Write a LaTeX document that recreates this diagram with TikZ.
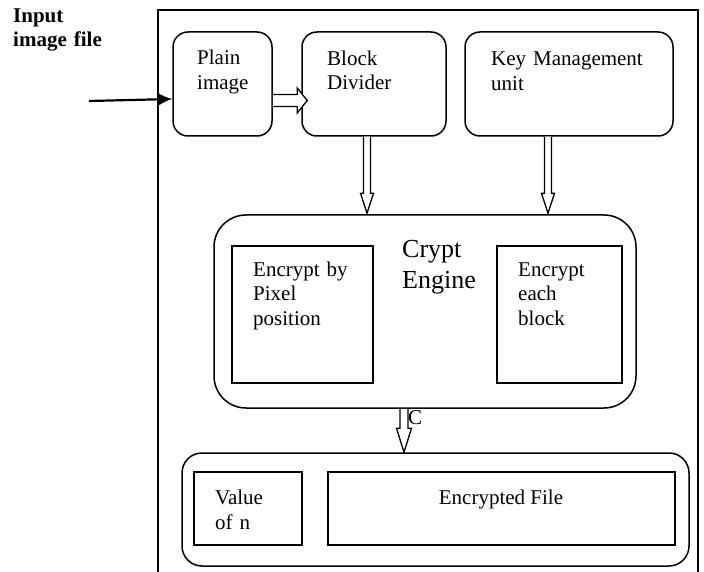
\documentclass[tikz,border=0pt]{standalone}
\usepackage{fontspec}
\setmainfont{Liberation Serif}
\usetikzlibrary{arrows.meta,calc}
\begin{document}
\begin{tikzpicture}[x=1pt,y=-1pt,
  rbox/.style={draw, line width=1.5pt, rounded corners=15pt, inner sep=0pt},
  sbox/.style={draw, line width=1.5pt, inner sep=0pt},
  txt/.style={anchor=base west, inner sep=0pt, align=left, text width=230pt, font=\fontsize{21}{24.5}\selectfont},
  hollow/.style={draw, line width=1.3pt, fill=white, line join=miter}
]
\useasboundingbox (0,0) rectangle (704,572);
% outer frame (open at the bottom)
\draw[line width=1.5pt] (158,580) -- (158,10) -- (698,10) -- (698,580);

% boxes
\node[rbox, minimum width=99pt, minimum height=104pt] (plain) at (222.5,84) {};
\node[rbox, minimum width=144pt, minimum height=104pt] (block) at (374,84) {};
\node[rbox, minimum width=208pt, minimum height=104pt] (key) at (569,84) {};
\node[rbox, rounded corners=32pt, minimum width=422pt, minimum height=193pt] (crypt) at (425,311.5) {};
\node[sbox, minimum width=141pt, minimum height=137pt] (encl) at (302.5,314.5) {};
\node[sbox, minimum width=125pt, minimum height=137pt] (encr) at (559.5,314.5) {};
\node[rbox, rounded corners=20pt, minimum width=507pt, minimum height=113pt] (lower) at (435.5,509.5) {};
\node[sbox, minimum width=108pt, minimum height=73pt] (valn) at (248,508.5) {};
\node[sbox, minimum width=347pt, minimum height=73pt] (encf) at (501.5,508.5) {};

% texts
\node[txt, font=\fontsize{21}{23.5}\selectfont\bfseries] (tin) at (13,22.7) {Input\\image file};
\node[txt] (tplain) at (197,65) {Plain\\image};
\node[txt] (tblock) at (327,65.5) {Block\\Divider};
\node[txt] (tkey) at (491,66) {Key Management\\unit};
\node[txt, font=\fontsize{26}{31}\selectfont] (tcrypt) at (402,258) {Crypt\\Engine};
\node[txt] (tencl) at (253,276) {Encrypt by\\Pixel\\position};
\node[txt] (tencr) at (518,276) {Encrypt\\each\\block};
\node[txt] (tval) at (215,504.5) {Value\\of n};
\node[anchor=base, inner sep=0pt, font=\fontsize{21}{24.5}\selectfont] (tencf) at (501,504) {Encrypted File};

% input arrow
\coordinate (inp) at (89,101);
\draw[line width=2.2pt, -{Latex[length=14pt,width=13pt]}] (inp) -- ($(plain.west)+(0,15)$);

% hollow arrow plain -> block
\draw[hollow] ($(plain.east)+(0,10.5)$) -- ($(block.west)+(-4,10.5)$) -- ($(block.west)+(-4,4)$)
  -- ($(block.west)+(6,16.5)$) -- ($(block.west)+(-4,29)$) -- ($(block.west)+(-4,22.5)$)
  -- ($(plain.east)+(0,22.5)$);

% hollow arrow block -> crypt
\coordinate (a1) at ($(block.south)+(-7,0)$);
\coordinate (a2) at (a1 |- crypt.north);
\draw[hollow] ($(a1)+(-3.5,0)$) -- ($(a2)+(-3.5,-21)$) -- ($(a2)+(-6.5,-21)$) -- ($(a2)+(0,-1)$)
  -- ($(a2)+(6.5,-21)$) -- ($(a2)+(3.5,-21)$) -- ($(a1)+(3.5,0)$);

% hollow arrow key -> crypt
\coordinate (b1) at ($(key.south)+(-21,0)$);
\coordinate (b2) at (b1 |- crypt.north);
\draw[hollow] ($(b1)+(-3.5,0)$) -- ($(b2)+(-3.5,-21)$) -- ($(b2)+(-6.5,-21)$) -- ($(b2)+(0,-1)$)
  -- ($(b2)+(6.5,-21)$) -- ($(b2)+(3.5,-21)$) -- ($(b1)+(3.5,0)$);

% hollow arrow crypt -> lower
\coordinate (c1) at ($(crypt.south)+(-21,0)$);
\coordinate (c2) at (c1 |- lower.north);
\draw[hollow] ($(c1)+(-4,0)$) -- ($(c2)+(-4,-24)$) -- ($(c2)+(-7.5,-24)$) -- (c2)
  -- ($(c2)+(7.5,-24)$) -- ($(c2)+(4,-24)$) -- ($(c1)+(4,0)$);
\node[anchor=base west, inner sep=0pt, font=\fontsize{21}{24.5}\selectfont] (tc) at (408,424) {C};
\end{tikzpicture}
\end{document}
